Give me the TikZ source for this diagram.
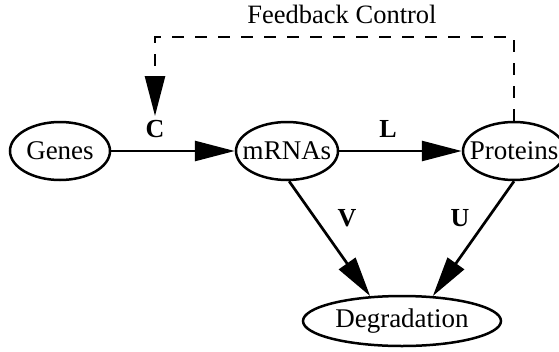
\documentclass[tikz,border=0pt]{standalone}
\usepackage{fontspec}
\setmainfont{Liberation Serif}
\usetikzlibrary{arrows.meta,shapes.geometric}

% zero-width label so the ellipse keeps its own size
\newcommand{\fixlbl}[1]{\makebox[0pt]{#1}}

\tikzset{
  state/.style={ellipse, draw, line width=2.5pt, inner sep=0pt,
    minimum width=100pt, minimum height=58pt,
    font=\fontsize{27}{31}\selectfont},
  rate/.style={font=\fontsize{26}{30}\selectfont\bfseries, inner sep=0pt},
  flow/.style={line width=2.7pt, -{Triangle[length=40pt,width=20pt]}},
  fb/.style={flow, dash pattern=on 12pt off 11pt}
}

\begin{document}
\begin{tikzpicture}[x=1pt,y=-1pt]
  \clip (0,0) rectangle (559,351);

  % species and the degradation sink
  \node[state] (genes) at (60,151) {\fixlbl{Genes}};
  \node[state, minimum width=102pt] (mrnas) at (287,151) {\fixlbl{mRNAs}};
  \node[state, minimum width=102pt] (prot) at (514,151) {\fixlbl{Proteins}};
  \node[state, minimum width=198pt, minimum height=50pt] (degr) at (402,321) {\fixlbl{Degradation}};

  % reactions
  \draw[flow] (genes) -- (mrnas);
  \draw[flow] (mrnas) -- (prot);
  \draw[flow] (mrnas.-86) -- (degr.142);
  \draw[flow] (prot.south) -- (degr.39);

  % feedback loop from proteins back to transcription
  \coordinate (fbR) at (514,37);
  \coordinate (fbL) at (155,37);
  \coordinate (fbEnd) at (155,116);
  \draw[fb] (prot.north) -- (fbR) -- (fbL) -- (fbEnd);

  % rate labels
  \node[rate] (lC) at (155,129) {C};
  \node[rate] (lL) at (388,129) {L};
  \node[rate] (lV) at (347,218) {V};
  \node[rate] (lU) at (460,218) {U};
  \node[font=\fontsize{26.5}{30}\selectfont, inner sep=0pt] (fbtext) at (342,14) {Feedback Control};
\end{tikzpicture}
\end{document}
